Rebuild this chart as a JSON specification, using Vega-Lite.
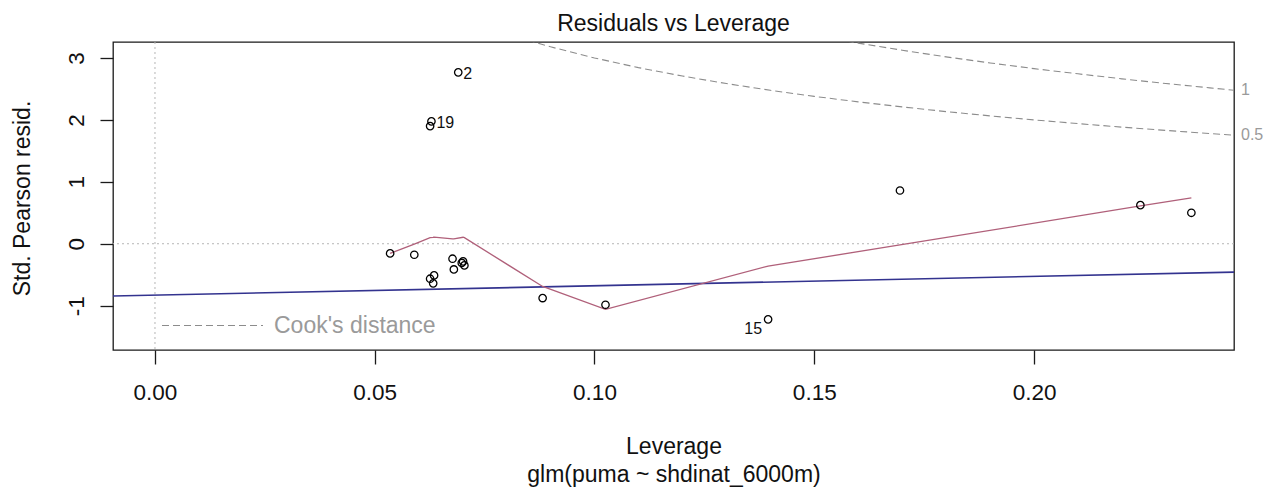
{
  "$schema": "https://vega.github.io/schema/vega-lite/v6.json",
  "autosize": "none",
  "width": 1121,
  "height": 308,
  "padding": {"left": 113, "top": 42, "right": 42, "bottom": 138},
  "background": "white",
  "config": {
    "font": "Liberation Sans",
    "view": {"stroke": "#1a1a1a", "strokeWidth": 1.3},
    "axis": {
      "grid": false,
      "domain": false,
      "tickColor": "#1a1a1a",
      "tickWidth": 1.3,
      "labelColor": "#111111",
      "titleColor": "#111111",
      "labelFont": "Liberation Sans",
      "titleFont": "Liberation Sans",
      "labelFontSize": 22.5,
      "titleFontSize": 23,
      "titleFontWeight": "normal"
    }
  },
  "title": {
    "text": "Residuals vs Leverage",
    "fontSize": 23,
    "fontWeight": "normal",
    "font": "Liberation Sans",
    "color": "#111111",
    "anchor": "middle",
    "baseline": "alphabetic",
    "offset": -12
  },
  "datasets": {
    "pts": [
      {"leverage": 0.0535, "resid": -0.156, "id": ""},
      {"leverage": 0.0590, "resid": -0.178, "id": ""},
      {"leverage": 0.0626, "resid": -0.565, "id": ""},
      {"leverage": 0.0635, "resid": -0.511, "id": ""},
      {"leverage": 0.0633, "resid": -0.640, "id": ""},
      {"leverage": 0.0677, "resid": -0.242, "id": ""},
      {"leverage": 0.0680, "resid": -0.415, "id": ""},
      {"leverage": 0.0701, "resid": -0.285, "id": ""},
      {"leverage": 0.0698, "resid": -0.310, "id": ""},
      {"leverage": 0.0704, "resid": -0.350, "id": ""},
      {"leverage": 0.0882, "resid": -0.877, "id": ""},
      {"leverage": 0.1025, "resid": -0.985, "id": ""},
      {"leverage": 0.1395, "resid": -1.221, "id": "15"},
      {"leverage": 0.1695, "resid": 0.860, "id": ""},
      {"leverage": 0.2242, "resid": 0.623, "id": ""},
      {"leverage": 0.2358, "resid": 0.500, "id": ""},
      {"leverage": 0.0690, "resid": 2.768, "id": "2"},
      {"leverage": 0.0629, "resid": 1.977, "id": "19"},
      {"leverage": 0.0626, "resid": 1.900, "id": ""}
    ],
    "smooth": [
      {"leverage": 0.0535, "resid": -0.156},
      {"leverage": 0.0590, "resid": -0.005},
      {"leverage": 0.0626, "resid": 0.100},
      {"leverage": 0.0633, "resid": 0.105},
      {"leverage": 0.0635, "resid": 0.107},
      {"leverage": 0.0677, "resid": 0.080},
      {"leverage": 0.0680, "resid": 0.078},
      {"leverage": 0.0701, "resid": 0.105},
      {"leverage": 0.0704, "resid": 0.098},
      {"leverage": 0.0882, "resid": -0.690},
      {"leverage": 0.1025, "resid": -1.060},
      {"leverage": 0.1395, "resid": -0.360},
      {"leverage": 0.1695, "resid": -0.020},
      {"leverage": 0.2242, "resid": 0.610},
      {"leverage": 0.2358, "resid": 0.742}
    ],
    "fit": [
      {"leverage": -0.00955, "resid": -0.845},
      {"leverage": 0.2455, "resid": -0.458}
    ],
    "cook": [
      {"leverage": 0.08, "resid": 3.391, "level": "0.5", "kind": "Cook's distance"},
      {"leverage": 0.09, "resid": 3.180, "level": "0.5", "kind": "Cook's distance"},
      {"leverage": 0.10, "resid": 3.000, "level": "0.5", "kind": "Cook's distance"},
      {"leverage": 0.11, "resid": 2.844, "level": "0.5", "kind": "Cook's distance"},
      {"leverage": 0.12, "resid": 2.708, "level": "0.5", "kind": "Cook's distance"},
      {"leverage": 0.13, "resid": 2.587, "level": "0.5", "kind": "Cook's distance"},
      {"leverage": 0.14, "resid": 2.478, "level": "0.5", "kind": "Cook's distance"},
      {"leverage": 0.15, "resid": 2.380, "level": "0.5", "kind": "Cook's distance"},
      {"leverage": 0.16, "resid": 2.291, "level": "0.5", "kind": "Cook's distance"},
      {"leverage": 0.17, "resid": 2.210, "level": "0.5", "kind": "Cook's distance"},
      {"leverage": 0.18, "resid": 2.134, "level": "0.5", "kind": "Cook's distance"},
      {"leverage": 0.19, "resid": 2.065, "level": "0.5", "kind": "Cook's distance"},
      {"leverage": 0.20, "resid": 2.000, "level": "0.5", "kind": "Cook's distance"},
      {"leverage": 0.21, "resid": 1.940, "level": "0.5", "kind": "Cook's distance"},
      {"leverage": 0.22, "resid": 1.883, "level": "0.5", "kind": "Cook's distance"},
      {"leverage": 0.23, "resid": 1.830, "level": "0.5", "kind": "Cook's distance"},
      {"leverage": 0.24, "resid": 1.780, "level": "0.5", "kind": "Cook's distance"},
      {"leverage": 0.2455, "resid": 1.753, "level": "0.5", "kind": "Cook's distance"},
      {"leverage": 0.15, "resid": 3.366, "level": "1", "kind": "Cook's distance"},
      {"leverage": 0.16, "resid": 3.240, "level": "1", "kind": "Cook's distance"},
      {"leverage": 0.17, "resid": 3.125, "level": "1", "kind": "Cook's distance"},
      {"leverage": 0.18, "resid": 3.018, "level": "1", "kind": "Cook's distance"},
      {"leverage": 0.19, "resid": 2.920, "level": "1", "kind": "Cook's distance"},
      {"leverage": 0.20, "resid": 2.828, "level": "1", "kind": "Cook's distance"},
      {"leverage": 0.21, "resid": 2.744, "level": "1", "kind": "Cook's distance"},
      {"leverage": 0.22, "resid": 2.663, "level": "1", "kind": "Cook's distance"},
      {"leverage": 0.23, "resid": 2.588, "level": "1", "kind": "Cook's distance"},
      {"leverage": 0.24, "resid": 2.517, "level": "1", "kind": "Cook's distance"},
      {"leverage": 0.2455, "resid": 2.479, "level": "1", "kind": "Cook's distance"}
    ],
    "cooklab": [
      {"leverage": 0.2455, "resid": 2.479, "level": "1"},
      {"leverage": 0.2455, "resid": 1.753, "level": "0.5"}
    ]
  },
  "layer": [
    {
      "data": {"values": [{}]},
      "mark": {"type": "rule", "color": "#b5b5b5", "strokeDash": [2, 3], "strokeWidth": 1},
      "encoding": {"x": {"datum": 0, "type": "quantitative"}}
    },
    {
      "data": {"values": [{}]},
      "mark": {"type": "rule", "color": "#b5b5b5", "strokeDash": [2, 3], "strokeWidth": 1},
      "encoding": {"y": {"datum": 0, "type": "quantitative"}}
    },
    {
      "data": {"name": "cook"},
      "mark": {"type": "line", "clip": true, "color": "#8c8c8c", "strokeWidth": 1.1},
      "encoding": {
        "x": {
          "field": "leverage", "type": "quantitative",
          "scale": {"domain": [-0.00955, 0.2455], "nice": false, "zero": false},
          "axis": {
            "title": ["Leverage", "glm(puma ~ shdinat_6000m)"],
            "values": [0, 0.05, 0.1, 0.15, 0.2],
            "format": ".2f",
            "tickSize": 14,
            "labelPadding": 17,
            "titleX": 560.5,
            "titleY": 103.3,
            "titleAlign": "center",
            "titleBaseline": "alphabetic",
            "titleLineHeight": 28
          }
        },
        "y": {
          "field": "resid", "type": "quantitative",
          "scale": {"domain": [-1.716, 3.258], "nice": false, "zero": false},
          "axis": {
            "title": "Std. Pearson resid.",
            "values": [-1, 0, 1, 2, 3],
            "labelExpr": "datum.value + ''",
            "labelAngle": -90,
            "labelAlign": "center",
            "labelBaseline": "alphabetic",
            "labelPadding": 17,
            "tickSize": 13,
            "titleAngle": -90,
            "titleX": -84,
            "titleY": 156,
            "titleAlign": "center",
            "titleBaseline": "alphabetic"
          }
        },
        "detail": {"field": "level", "type": "nominal"},
        "strokeDash": {
          "field": "kind", "type": "nominal",
          "scale": {"domain": ["Cook's distance"], "range": [[7, 4]]},
          "legend": {
            "title": null,
            "orient": "none",
            "legendX": 48,
            "legendY": 232,
            "padding": 0,
            "symbolType": "stroke",
            "symbolSize": 10201,
            "symbolStrokeColor": "#8c8c8c",
            "symbolStrokeWidth": 1.1,
            "labelFont": "Liberation Sans",
            "labelFontSize": 23,
            "labelColor": "#9a9a9a",
            "labelOffset": 10,
            "labelLimit": 400
          }
        }
      }
    },
    {
      "data": {"name": "fit"},
      "mark": {"type": "line", "color": "#33338f", "strokeWidth": 1.6},
      "encoding": {
        "x": {"field": "leverage", "type": "quantitative"},
        "y": {"field": "resid", "type": "quantitative"}
      }
    },
    {
      "data": {"name": "smooth"},
      "mark": {"type": "line", "color": "#b0607a", "strokeWidth": 1.3},
      "encoding": {
        "x": {"field": "leverage", "type": "quantitative"},
        "y": {"field": "resid", "type": "quantitative"}
      }
    },
    {
      "data": {"name": "pts"},
      "mark": {"type": "point", "shape": "circle", "filled": false, "color": "#000000", "size": 55, "strokeWidth": 1.3, "opacity": 1},
      "encoding": {
        "x": {"field": "leverage", "type": "quantitative"},
        "y": {"field": "resid", "type": "quantitative"}
      }
    },
    {
      "data": {"name": "pts"},
      "transform": [{"filter": "datum.id == '2' || datum.id == '19'"}],
      "mark": {"type": "text", "align": "left", "baseline": "middle", "dx": 5, "dy": 2, "fontSize": 16, "color": "#111111", "font": "Liberation Sans"},
      "encoding": {
        "x": {"field": "leverage", "type": "quantitative"},
        "y": {"field": "resid", "type": "quantitative"},
        "text": {"field": "id"}
      }
    },
    {
      "data": {"name": "pts"},
      "transform": [{"filter": "datum.id == '15'"}],
      "mark": {"type": "text", "align": "right", "baseline": "middle", "dx": -6, "dy": 10, "fontSize": 16, "color": "#111111", "font": "Liberation Sans"},
      "encoding": {
        "x": {"field": "leverage", "type": "quantitative"},
        "y": {"field": "resid", "type": "quantitative"},
        "text": {"field": "id"}
      }
    },
    {
      "data": {"name": "cooklab"},
      "mark": {"type": "text", "align": "left", "baseline": "middle", "dx": 7, "fontSize": 16, "color": "#9a9a9a", "font": "Liberation Sans", "clip": false},
      "encoding": {
        "x": {"field": "leverage", "type": "quantitative"},
        "y": {"field": "resid", "type": "quantitative"},
        "text": {"field": "level"}
      }
    }
  ]
}
